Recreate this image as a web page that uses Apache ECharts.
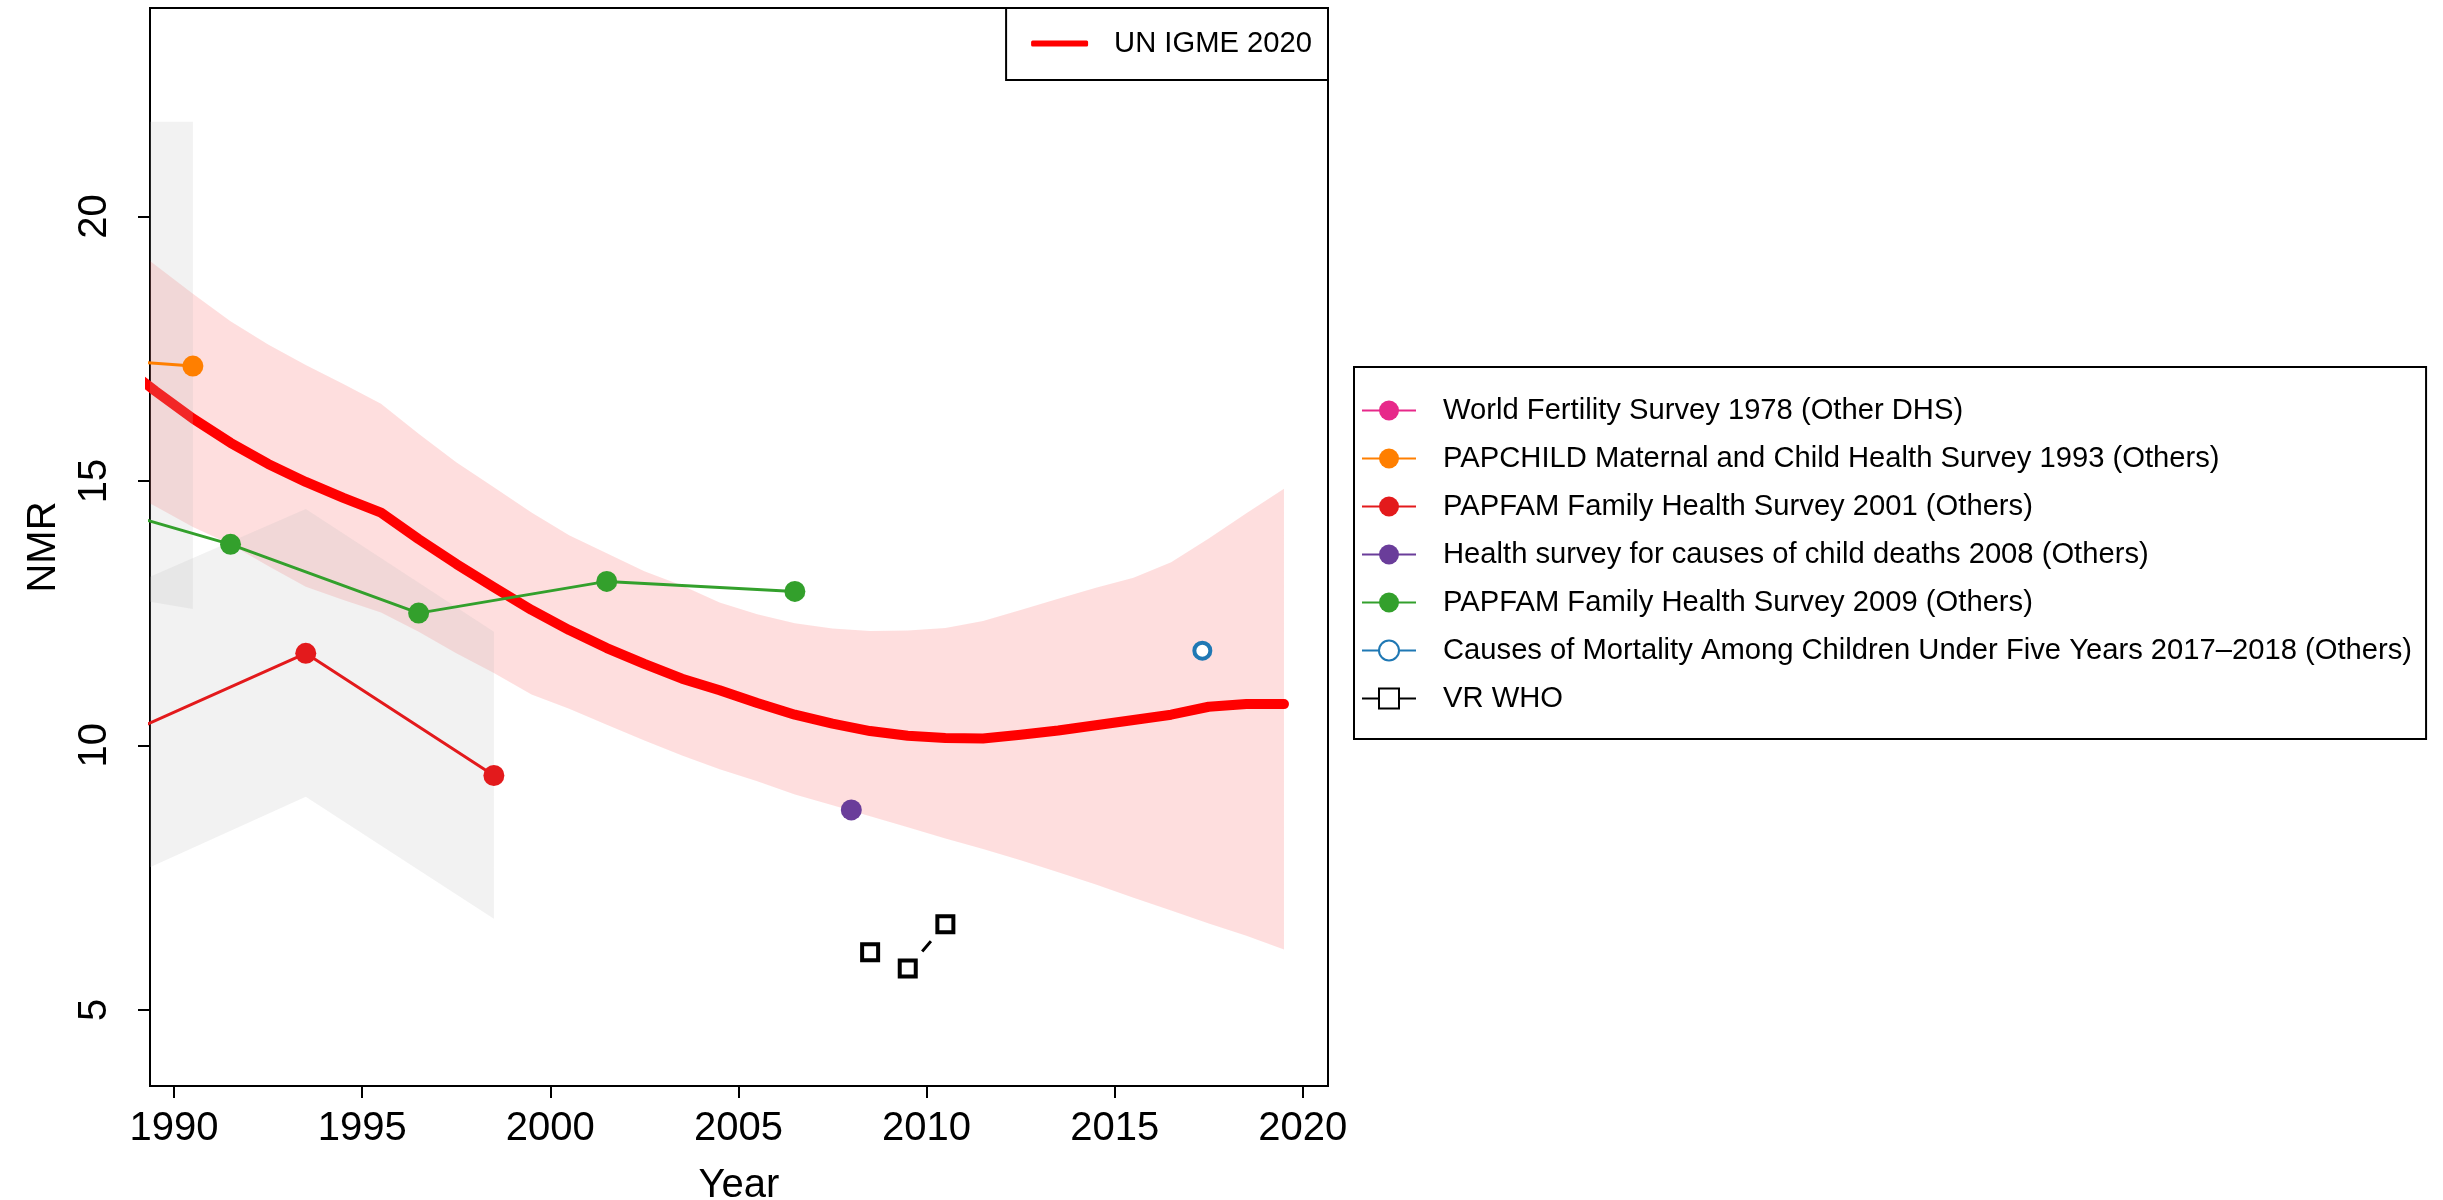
<!DOCTYPE html>
<html>
<head>
<meta charset="utf-8">
<title>NMR</title>
<script src="https://cdn.jsdelivr.net/npm/echarts@6/dist/echarts.min.js"></script>
<style>
    html, body { margin: 0; padding: 0; background: #fff; }
    #chart { width: 2443px; height: 1200px; }
</style>
</head>
<body>
<div id="chart"></div>
<script>
(function () {
    'use strict';

    // tick labels
    var xTicks = [1990, 1995, 2000, 2005, 2010, 2015, 2020];
    var yTicks = [5, 10, 15, 20];

    // UN IGME 2020 estimate and its uncertainty band
    var igmeYears = [1988.5, 1989.5, 1990.5, 1991.5, 1992.5, 1993.5, 1994.5, 1995.5, 1996.5, 1997.5,
        1998.5, 1999.5, 2000.5, 2001.5, 2002.5, 2003.5, 2004.5, 2005.5, 2006.5, 2007.5,
        2008.5, 2009.5, 2010.5, 2011.5, 2012.5, 2013.5, 2014.5, 2015.5, 2016.5, 2017.5,
        2018.5, 2019.5];
    var igmeNmr = [17.25, 16.70, 16.18, 15.72, 15.32, 14.98, 14.68, 14.40, 13.90, 13.43,
        12.99, 12.56, 12.18, 11.84, 11.54, 11.26, 11.04, 10.80, 10.58, 10.41,
        10.27, 10.18, 10.14, 10.13, 10.20, 10.28, 10.38, 10.48, 10.58, 10.73,
        10.78, 10.78];
    var igmeUpper = [19.62, 19.08, 18.54, 18.02, 17.58, 17.19, 16.83, 16.46, 15.89, 15.35,
        14.88, 14.40, 13.97, 13.63, 13.29, 13.02, 12.70, 12.48, 12.31, 12.21,
        12.16, 12.17, 12.22, 12.35, 12.56, 12.77, 12.98, 13.17, 13.46, 13.91,
        14.39, 14.85];
    var igmeLower = [14.90, 14.52, 14.13, 13.80, 13.39, 13.00, 12.75, 12.51, 12.15, 11.74,
        11.37, 10.96, 10.69, 10.39, 10.09, 9.81, 9.55, 9.32, 9.07, 8.87,
        8.66, 8.45, 8.24, 8.04, 7.83, 7.60, 7.37, 7.12, 6.88, 6.63,
        6.40, 6.14];

    // survey data
    var wfsYears = [];
    var wfsNmr = [];

    var papchildYears = [1985.5, 1990.5];
    var papchildNmr = [17.43, 17.17];
    var papchildUpper = [21.79, 21.79];
    var papchildLower = [13.18, 12.58];

    var papfam01Years = [1988.5, 1993.5, 1998.5];
    var papfam01Nmr = [10.15, 11.74, 9.43];
    var papfam01Upper = [12.92, 14.47, 12.15];
    var papfam01Lower = [7.42, 9.03, 6.72];

    var hsYears = [2008.0];
    var hsNmr = [8.78];

    var papfam09Years = [1986.5, 1991.5, 1996.5, 2001.5, 2006.5];
    var papfam09Nmr = [14.83, 13.80, 12.50, 13.10, 12.91];

    var cmYears = [2017.33];
    var cmNmr = [11.79];

    var vrYears = [2008.5, 2009.5, 2010.5];
    var vrNmr = [6.09, 5.78, 6.62];

    var names = [
        'World Fertility Survey 1978 (Other DHS)',
        'PAPCHILD Maternal and Child Health Survey 1993 (Others)',
        'PAPFAM Family Health Survey 2001 (Others)',
        'Health survey for causes of child deaths 2008 (Others)',
        'PAPFAM Family Health Survey 2009 (Others)',
        'Causes of Mortality Among Children Under Five Years 2017\u20132018 (Others)',
        'VR WHO'
    ];

    var font = '"Liberation Sans", Arial, Helvetica, sans-serif';

    function pairs(xs, ys) {
        return xs.map(function (x, i) { return [x, ys[i]]; });
    }

    // polygon between lower and upper bound, clipped to the grid
    function band(xs, lo, hi, fill, z) {
        return {
            type: 'custom',
            silent: true,
            clip: true,
            z: z,
            data: [0],
            renderItem: function (params, api) {
                var pts = [];
                for (var i = 0; i < xs.length; i++) {
                    pts.push(api.coord([xs[i], hi[i]]));
                }
                for (var j = xs.length - 1; j >= 0; j--) {
                    pts.push(api.coord([xs[j], lo[j]]));
                }
                return {
                    type: 'polygon',
                    shape: {points: pts},
                    style: {fill: fill}
                };
            }
        };
    }

    function survey(name, xs, ys, color, hollow) {
        return {
            type: 'line',
            name: name,
            z: 4,
            data: pairs(xs, ys),
            symbol: 'circle',
            symbolSize: hollow ? 16 : 21,
            showSymbol: true,
            color: color,
            lineStyle: {color: color, width: 3},
            itemStyle: hollow ? {color: '#fff', borderColor: color, borderWidth: 4} : {color: color}
        };
    }

    var myChart = echarts.init(document.getElementById('chart'));

    var option = {
        animation: false,
        backgroundColor: '#fff',
        textStyle: {fontFamily: font, color: '#000'},
        grid: {
            left: 150,
            top: 8,
            width: 1178,
            height: 1078,
            outerBoundsMode: 'none',
            containLabel: false,
            show: true,
            borderColor: '#000',
            borderWidth: 2,
            backgroundColor: 'transparent'
        },
        xAxis: {
            type: 'value',
            min: 1989.36,
            max: 2020.67,
            name: 'Year',
            nameLocation: 'middle',
            nameGap: 80,
            nameTextStyle: {fontSize: 40, color: '#000', fontFamily: font},
            axisLine: {show: true, onZero: false, lineStyle: {color: '#000', width: 2}},
            axisTick: {show: true, length: 12, lineStyle: {color: '#000', width: 2}, customValues: xTicks},
            axisLabel: {
                fontSize: 40, color: '#000', margin: 23, fontFamily: font, customValues: xTicks,
                formatter: function (v) { return String(v); }
            },
            splitLine: {show: false}
        },
        yAxis: {
            type: 'value',
            min: 3.56,
            max: 23.94,
            name: 'NMR',
            nameLocation: 'middle',
            nameGap: 86,
            nameTextStyle: {fontSize: 40, color: '#000', fontFamily: font},
            axisLine: {show: true, onZero: false, lineStyle: {color: '#000', width: 2}},
            axisTick: {show: true, length: 12, lineStyle: {color: '#000', width: 2}, customValues: yTicks},
            axisLabel: {fontSize: 40, color: '#000', margin: 35, rotate: 90, fontFamily: font, customValues: yTicks},
            splitLine: {show: false}
        },
        legend: [
            {
                data: [{name: 'UN IGME 2020', icon: 'roundRect'}],
                right: 1115,
                top: 8,
                orient: 'vertical',
                selectedMode: false,
                itemWidth: 57,
                itemHeight: 6,
                padding: [21, 16, 22, 25],
                backgroundColor: '#fff',
                borderColor: '#000',
                borderWidth: 2,
                borderRadius: 0,
                textStyle: {fontSize: 29.2, lineHeight: 28, color: '#000', fontFamily: font, padding: [0, 0, 0, 21]}
            },
            {
                data: names,
                left: 1354,
                top: 367,
                orient: 'vertical',
                selectedMode: false,
                itemWidth: 54,
                itemHeight: 25,
                itemGap: 19,
                padding: [29, 14, 26, 7],
                backgroundColor: '#fff',
                borderColor: '#000',
                borderWidth: 2,
                borderRadius: 0,
                textStyle: {fontSize: 29.2, lineHeight: 28, color: '#000', fontFamily: font, padding: [0, 0, 0, 22]}
            }
        ],
        series: [
            band(igmeYears, igmeLower, igmeUpper, 'rgba(245,0,0,0.13)', 1),
            {
                type: 'line',
                name: 'UN IGME 2020',
                z: 2,
                data: pairs(igmeYears, igmeNmr),
                symbol: 'none',
                color: '#ff0000',
                lineStyle: {color: '#ff0000', width: 10, cap: 'round', join: 'round'}
            },
            band(papchildYears, papchildLower, papchildUpper, 'rgba(190,190,190,0.2)', 3),
            band(papfam01Years, papfam01Lower, papfam01Upper, 'rgba(190,190,190,0.2)', 3),
            survey(names[0], wfsYears, wfsNmr, '#E7298A'),
            survey(names[1], papchildYears, papchildNmr, '#FF7F00'),
            survey(names[2], papfam01Years, papfam01Nmr, '#E31A1C'),
            survey(names[3], hsYears, hsNmr, '#6A3D9A'),
            survey(names[4], papfam09Years, papfam09Nmr, '#33A02C'),
            survey(names[5], cmYears, cmNmr, '#1F78B4', true),
            {
                type: 'line',
                name: names[6],
                z: 4,
                data: pairs(vrYears, vrNmr),
                symbol: 'emptyRect',
                symbolSize: 16,
                color: '#000',
                lineStyle: {color: '#000', width: 3},
                itemStyle: {color: '#000', borderWidth: 4}
            },
            // white halo so the VR line stops short of the squares
            {
                type: 'scatter',
                silent: true,
                z: 5,
                data: pairs(vrYears, vrNmr),
                symbol: 'circle',
                symbolSize: 45,
                itemStyle: {color: '#fff', opacity: 1}
            },
            {
                type: 'scatter',
                silent: true,
                z: 6,
                data: pairs(vrYears, vrNmr),
                symbol: 'rect',
                symbolSize: 16,
                itemStyle: {color: '#fff', borderColor: '#000', borderWidth: 4, opacity: 1}
            }
        ]
    };

    myChart.setOption(option);
})();
</script>
</body>
</html>
